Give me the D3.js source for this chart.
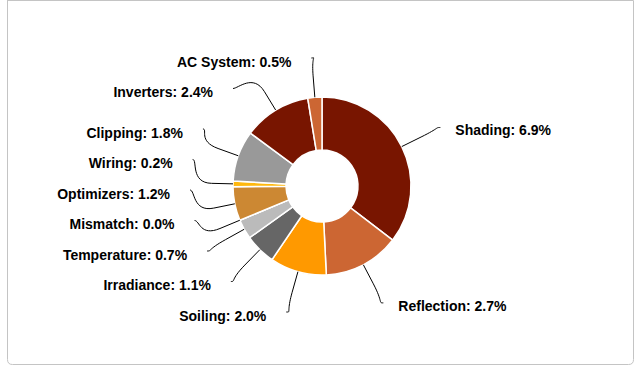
<!DOCTYPE html>
<html>
<head>
<meta charset="utf-8">
<script src="https://cdn.jsdelivr.net/npm/d3@7"></script>
<style>
  html, body { margin: 0; padding: 0; background: #fff; }
  svg { display: block; }
  text { font-family: "Liberation Sans", Arial, sans-serif; font-weight: bold; fill: #000; }
</style>
</head>
<body>
<svg id="chart" width="634" height="366"></svg>
<script>
// Loss categories, clockwise from 12 o'clock
const categories = ["Shading", "Reflection", "Soiling", "Irradiance", "Temperature",
                    "Mismatch", "Optimizers", "Wiring", "Clipping", "Inverters", "AC System"];
const lossValues = [6.9, 2.7, 2.0, 1.1, 0.7, 0.0, 1.2, 0.2, 1.8, 2.4, 0.5];
const palette = ["#781500", "#cc6633", "#ff9900", "#666666", "#bbbbbb",
                 "#e0a060", "#cc8833", "#ffb80e", "#999999"];

const W = 634, H = 366;
const cx = 322, cy = 186;
const outerR = 89, innerR = 36;
const labelR = 132;          // radius where connectors meet the labels
const labelGap = 30.5;       // vertical spacing between stacked labels
const yMin = 58, yMax = 312; // vertical bounds for connector ends

const svg = d3.select("#chart");

// card frame
svg.append("path")
  .attr("d", `M7.5,0 L7.5,359.5 Q7.5,364.5 12.5,364.5 L628.5,364.5 Q633.5,364.5 633.5,359.5 L633.5,0.5 L7.5,0.5`)
  .attr("fill", "none")
  .attr("stroke", "#c4c4c4")
  .attr("stroke-width", 1);

const data = categories.map((c, i) => ({ name: c, value: lossValues[i], index: i }));

const pie = d3.pie().value(d => d.value).sort(null);
const arcs = pie(data);
const arc = d3.arc().innerRadius(innerR).outerRadius(outerR);

const g = svg.append("g").attr("transform", `translate(${cx},${cy})`);

g.selectAll("path.slice")
  .data(arcs)
  .join("path")
  .attr("class", "slice")
  .attr("d", arc)
  .attr("fill", d => palette[d.index % palette.length])
  .attr("stroke", "#fff")
  .attr("stroke-width", 1.5)
  .attr("stroke-linejoin", "round");

// label layout: natural positions on a circle, then spread to avoid overlap
const labels = arcs.map(a => {
  const mid = (a.startAngle + a.endAngle) / 2;
  const sin = Math.sin(mid), cos = -Math.cos(mid);
  return {
    arc: a,
    mid,
    left: mid > Math.PI,
    natural: cy + labelR * cos,
    touch: [cx + outerR * sin, cy + outerR * cos],
    brk: [cx + (outerR + (labelR - outerR) / 2) * sin, cy + (outerR + (labelR - outerR) / 2) * cos]
  };
});

function distribute(items) {
  items.sort((a, b) => a.natural - b.natural);
  const clusters = items.map(d => ({ members: [d] }));
  const place = c => {
    const n = c.members.length;
    let s = d3.mean(c.members, m => m.natural) - (n - 1) * labelGap / 2;
    s = Math.max(yMin, Math.min(yMax - (n - 1) * labelGap, s));
    c.start = s;
  };
  clusters.forEach(place);
  let changed = true;
  while (changed) {
    changed = false;
    for (let i = 0; i < clusters.length - 1; i++) {
      const a = clusters[i], b = clusters[i + 1];
      if (a.start + a.members.length * labelGap > b.start + 0.01) {
        a.members = a.members.concat(b.members);
        clusters.splice(i + 1, 1);
        place(a);
        changed = true;
        break;
      }
    }
  }
  clusters.forEach(c => c.members.forEach((m, i) => { m.y = c.start + i * labelGap; }));
}
distribute(labels.filter(d => d.left));
distribute(labels.filter(d => !d.left));

labels.forEach(d => {
  const edge = d.y < yMin + 2 || d.y > yMax - 2;
  const yy = edge ? d.natural : d.y;
  const dy = Math.max(-labelR, Math.min(labelR, yy - cy));
  const dx = Math.sqrt(labelR * labelR - dy * dy);
  d.x = d.left ? cx - dx : cx + dx;
});

const line = svg.append("g");
line.selectAll("path")
  .data(labels)
  .join("path")
  .attr("fill", "none")
  .attr("stroke", "#000")
  .attr("stroke-width", 1)
  .attr("d", d => {
    const p = d3.path();
    p.moveTo(d.x, d.y);
    p.bezierCurveTo(d.x + (d.left ? 5 : -5), d.y,
                    2 * d.brk[0] - d.touch[0], 2 * d.brk[1] - d.touch[1],
                    d.brk[0], d.brk[1]);
    p.lineTo(d.touch[0], d.touch[1]);
    return p.toString();
  });

svg.append("g").selectAll("text")
  .data(labels)
  .join("text")
  .attr("x", d => d.left ? d.x - 20 : d.x + 15)
  .attr("y", d => d.y + (d.left ? 4 : 3))
  .attr("dy", "0.35em")
  .attr("text-anchor", d => d.left ? "end" : "start")
  .attr("font-size", 14)
  .text(d => `${d.arc.data.name}: ${d3.format(".1f")(d.arc.data.value)}%`);
</script>
</body>
</html>
